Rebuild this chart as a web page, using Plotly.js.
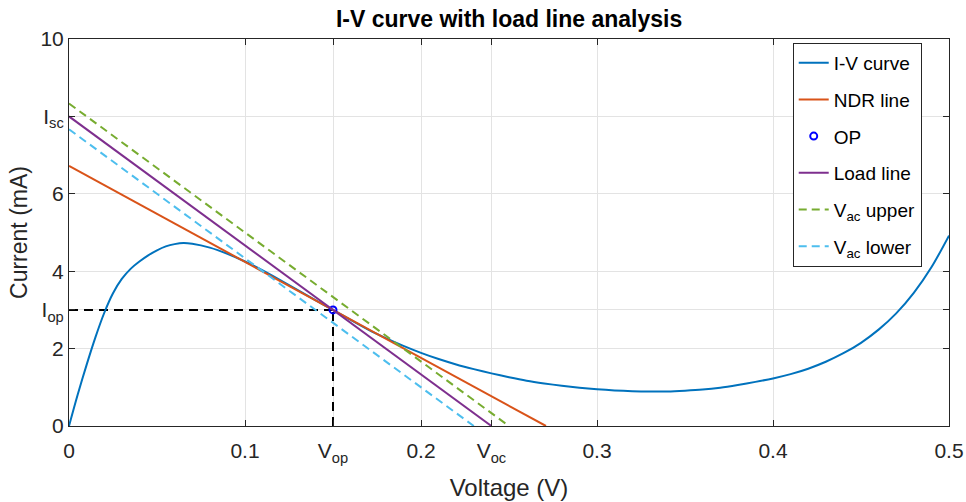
<!DOCTYPE html>
<html>
<head>
<meta charset="utf-8">
<script src="https://cdn.plot.ly/plotly-3.0.1.min.js"></script>
<style>html,body{margin:0;padding:0;background:#fff;}#chart{width:966px;height:502px;}</style>
</head>
<body>
<div id="chart"></div>
<script>
// I-V curve
const ivV = [0, 0.005, 0.010, 0.015, 0.020, 0.025, 0.030, 0.035, 0.040, 0.045, 0.050, 0.055, 0.060, 0.065,
             0.070, 0.080, 0.090, 0.100, 0.110, 0.120, 0.130, 0.140, 0.150, 0.160, 0.170, 0.180, 0.190, 0.200,
             0.210, 0.220, 0.230, 0.240, 0.250, 0.260, 0.270, 0.280, 0.290, 0.300, 0.310, 0.320, 0.330, 0.340,
             0.350, 0.360, 0.370, 0.380, 0.390, 0.400, 0.410, 0.420, 0.430, 0.440, 0.450, 0.460, 0.470, 0.480,
             0.490, 0.500];
const ivI = [0, 0.82, 1.58, 2.29, 2.92, 3.43, 3.80, 4.06, 4.25, 4.41, 4.54, 4.64, 4.70, 4.73,
             4.71, 4.61, 4.45, 4.25, 4.02, 3.77, 3.51, 3.25, 3.00, 2.74, 2.49, 2.27, 2.07, 1.89,
             1.73, 1.59, 1.47, 1.36, 1.26, 1.17, 1.10, 1.04, 0.99, 0.95, 0.92, 0.90, 0.89, 0.89,
             0.91, 0.94, 0.99, 1.06, 1.14, 1.23, 1.34, 1.48, 1.66, 1.88, 2.15, 2.49, 2.91, 3.44,
             4.10, 4.92];
// straight lines (endpoints)
const ndrV = [0, 0.271];      const ndrI = [6.72, 0];
const loadV = [0, 0.24];      const loadI = [8, 0];
const upV = [0, 0.25];        const upI = [8.333, 0];
const lowV = [0, 0.23];       const lowI = [7.667, 0];
// operating point
const opV = [0.15];           const opI = [3];
const guideHV = [0, 0.15];    const guideHI = [3, 3];
const guideVV = [0.15, 0.15]; const guideVI = [0, 3];
// ticks
const xTickVals = [0, 0.1, 0.15, 0.2, 0.24, 0.3, 0.4, 0.5];
const xTickText = ['0', '0.1', 'V<sub>op</sub>', '0.2', 'V<sub>oc</sub>', '0.3', '0.4', '0.5'];
const yTickVals = [0, 2, 3, 4, 6, 8, 10];
const yTickText = ['0', '2', 'I<sub>op</sub>', '4', '6', 'I<sub>sc</sub>', '10'];

const dashPat = '9px,6px';
const traces = [
  {x: guideHV, y: guideHI, mode: 'lines', line: {color: '#000', width: 2, dash: dashPat}, showlegend: false, hoverinfo: 'skip'},
  {x: guideVV, y: guideVI, mode: 'lines', line: {color: '#000', width: 2, dash: dashPat}, showlegend: false, hoverinfo: 'skip'},
  {x: ivV, y: ivI, mode: 'lines', name: 'I-V curve', legendgroup: 'g1', line: {color: '#0072BD', width: 2, shape: 'spline', smoothing: 0.8}},
  {x: ndrV, y: ndrI, mode: 'lines', name: 'NDR line', legendgroup: 'g2', line: {color: '#D95319', width: 2}},
  {x: opV, y: opI, mode: 'markers', name: 'OP', legendgroup: 'g3', marker: {symbol: 'circle-open', size: 7, color: '#0000FF', line: {width: 2, color: '#0000FF'}}},
  {x: loadV, y: loadI, mode: 'lines', name: 'Load line', legendgroup: 'g4', line: {color: '#7E2F8E', width: 2}},
  {x: upV, y: upI, mode: 'lines', name: 'V<sub>ac</sub> upper', legendgroup: 'g5', line: {color: '#77AC30', width: 2, dash: '8px,5px'}},
  {x: lowV, y: lowI, mode: 'lines', name: 'V<sub>ac</sub> lower', legendgroup: 'g6', line: {color: '#4DBEEE', width: 2, dash: '8px,5px'}}
];

const axisCommon = {
  showline: true, linecolor: '#262626', linewidth: 1, mirror: 'ticks',
  ticks: 'inside', ticklen: 6, tickcolor: '#262626', tickwidth: 1,
  showgrid: true, gridcolor: '#e3e3e3', gridwidth: 1, zeroline: false,
  tickfont: {family: 'Liberation Sans, Arial, sans-serif', size: 21, color: '#262626'},
  tickmode: 'array'
};

const layout = {
  width: 966, height: 502,
  margin: {l: 69, r: 17, t: 39, b: 76},
  paper_bgcolor: '#fff', plot_bgcolor: '#fff',
  font: {family: 'Liberation Sans, Arial, sans-serif', color: '#262626'},
  title: {text: '<b>I-V curve with load line analysis</b>', x: 0.527, xanchor: 'center', y: 0.963, yanchor: 'middle',
          font: {family: 'Liberation Sans, Arial, sans-serif', size: 23, color: '#000'}},
  xaxis: Object.assign({}, axisCommon, {
    range: [0, 0.5], tickvals: xTickVals, ticktext: xTickText, ticklabelstandoff: 6,
    title: {text: 'Voltage (V)', standoff: 14, font: {size: 24, color: '#262626'}}
  }),
  yaxis: Object.assign({}, axisCommon, {
    range: [0, 10], tickvals: yTickVals, ticktext: yTickText,
    title: {text: 'Current (mA)', standoff: 6, font: {size: 23, color: '#262626'}}
  }),
  legend: {
    x: 0.969, xanchor: 'right', y: 0.99, yanchor: 'top',
    bgcolor: '#fff', bordercolor: '#262626', borderwidth: 1,
    font: {family: 'Liberation Sans, Arial, sans-serif', size: 19, color: '#000'},
    itemwidth: 30, traceorder: 'grouped', tracegroupgap: 9
  },
  showlegend: true
};

Plotly.newPlot('chart', traces, layout, {displayModeBar: false, staticPlot: true});
</script>
</body>
</html>
